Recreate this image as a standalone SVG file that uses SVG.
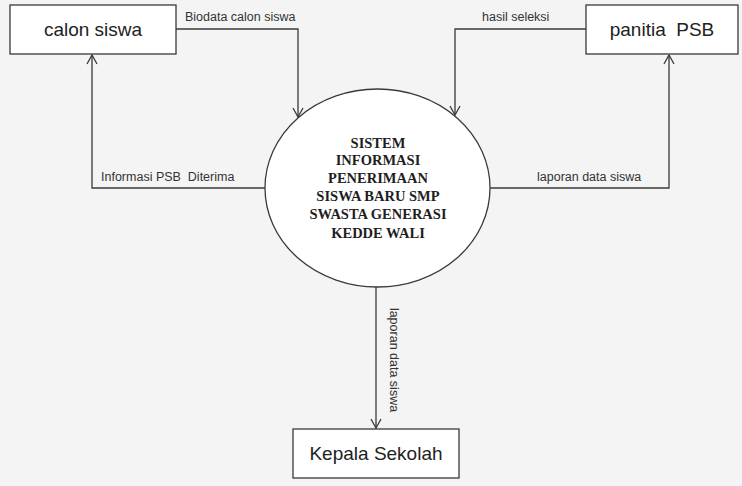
<svg xmlns="http://www.w3.org/2000/svg" width="742" height="486" viewBox="0 0 742 486">
<defs>
<marker id="arr" viewBox="0 0 12 12" refX="11" refY="6" markerWidth="12" markerHeight="12" markerUnits="userSpaceOnUse" orient="auto">
<polyline points="2,1 11,6 2,11" fill="none" stroke="#3a3a3a" stroke-width="1.3"/>
</marker>
</defs>
<style>
.box{fill:#ffffff;stroke:#3a3a3a;stroke-width:1.3}
.lbl{font-family:"Liberation Sans",Arial,sans-serif;font-size:12.5px;fill:#333}
.big{font-family:"Liberation Sans",Arial,sans-serif;font-size:19px;fill:#222;text-anchor:middle}
.ctr{font-family:"Liberation Serif","Times New Roman",serif;font-size:14.5px;font-weight:bold;fill:#1e1e1e;text-anchor:middle}
.con{fill:none;stroke:#3a3a3a;stroke-width:1.3;marker-end:url(#arr)}
</style>
<rect width="742" height="486" fill="#f4f4f4"/>
<g id="connectors">
<polyline class="con" points="176,29 298,29 298,117"/>
<polyline class="con" points="586,29 455,29 455,115"/>
<polyline class="con" points="265,188 92,188 92,55"/>
<polyline class="con" points="490,188 669,188 669,55"/>
<polyline class="con" points="376,287 376,428"/>
<text class="lbl" x="185" y="21">Biodata calon siswa</text>
<text class="lbl" x="482" y="21">hasil seleksi</text>
<text class="lbl" x="101" y="181" xml:space="preserve">Informasi PSB  Diterima</text>
<text class="lbl" x="537" y="181">laporan data siswa</text>
<text class="lbl" x="0" y="0" text-anchor="middle" transform="translate(390,360) rotate(90)">laporan data siswa</text>
</g>
<g id="calon-siswa">
<rect class="box" x="10" y="5" width="166" height="49"/>
<text class="big" x="93" y="36">calon siswa</text>
</g>
<g id="panitia-psb">
<rect class="box" x="586" y="5" width="152" height="49"/>
<text class="big" x="662" y="36" xml:space="preserve">panitia  PSB</text>
</g>
<g id="sistem">
<ellipse cx="377.5" cy="188" rx="112.5" ry="99" fill="#ffffff" stroke="#3a3a3a" stroke-width="1.3"/>
<text class="ctr" x="378" y="148">SISTEM</text>
<text class="ctr" x="378" y="165">INFORMASI</text>
<text class="ctr" x="378" y="183">PENERIMAAN</text>
<text class="ctr" x="378" y="201">SISWA BARU SMP</text>
<text class="ctr" x="378" y="219">SWASTA GENERASI</text>
<text class="ctr" x="378" y="238">KEDDE WALI</text>
</g>
<g id="kepala-sekolah">
<rect class="box" x="293" y="429" width="166" height="49"/>
<text class="big" x="376" y="460">Kepala Sekolah</text>
</g>
</svg>
